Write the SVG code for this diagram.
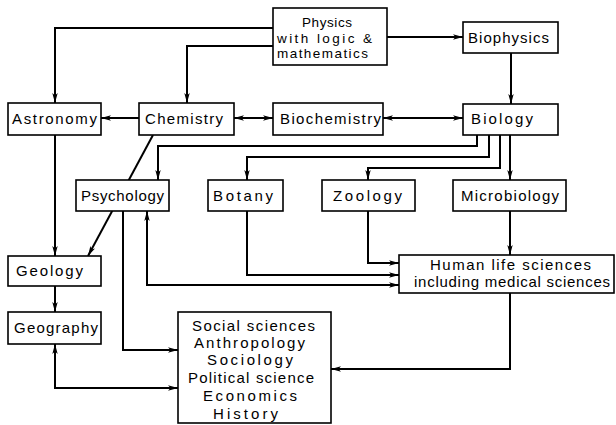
<svg xmlns="http://www.w3.org/2000/svg" width="616" height="425" viewBox="0 0 616 425">
<style>
.box{fill:#fff;stroke:#000;stroke-width:1.6}
.t{font-family:"Liberation Sans",Arial,sans-serif;font-size:15px;fill:#000}
.s{font-size:13.5px}
.c{fill:none;stroke:#000;stroke-width:2}
.a{marker-end:url(#ah)}
.d{marker-start:url(#ah);marker-end:url(#ah)}
</style>
<defs>
<marker id="ah" viewBox="0 0 10 6" refX="10" refY="3" markerWidth="10" markerHeight="6" markerUnits="userSpaceOnUse" orient="auto-start-reverse">
<path d="M0,0.3 L10,3 L0,5.7 L2.5,3 z" fill="#000"/>
</marker>
</defs>
<rect width="616" height="425" fill="#fff"/>
<g id="connectors">
<polyline class="c a" points="273,28 55,28 55,103"/>
<polyline class="c a" points="273,46 187,46 187,103"/>
<line class="c a" x1="387" y1="37" x2="463" y2="37"/>
<line class="c a" x1="511" y1="53" x2="511" y2="104"/>
<line class="c a" x1="139" y1="118" x2="101" y2="118"/>
<line class="c d" x1="234" y1="118" x2="273" y2="118"/>
<line class="c d" x1="383" y1="118" x2="463" y2="118"/>
<line class="c a" x1="153" y1="135" x2="88" y2="256"/>
<line class="c a" x1="55" y1="135" x2="55" y2="256"/>
<line class="c a" x1="55" y1="286" x2="55" y2="312"/>
<polyline class="c a" points="477,135 477,146 158,146 158,180"/>
<polyline class="c a" points="489,135 489,157 247,157 247,180"/>
<polyline class="c a" points="500,135 500,168 368,168 368,180"/>
<line class="c a" x1="510" y1="135" x2="510" y2="180"/>
<line class="c a" x1="510" y1="211" x2="510" y2="255"/>
<polyline class="c a" points="368,211 368,263 399,263"/>
<polyline class="c a" points="247,211 247,275 399,275"/>
<polyline class="c d" points="147,211 147,285 399,285"/>
<polyline class="c a" points="123,211 123,350 178,350"/>
<polyline class="c d" points="55,344 55,388 178,388"/>
<polyline class="c a" points="510,293 510,369 331,369"/>
</g>
<g id="physics">
<rect class="box" x="273" y="8" width="114" height="57"/>
<text class="t s" x="302" y="27" textLength="50" lengthAdjust="spacing">Physics</text>
<text class="t s" x="277" y="43" textLength="95" lengthAdjust="spacing">with logic &amp;</text>
<text class="t s" x="277" y="58" textLength="91" lengthAdjust="spacing">mathematics</text>
</g>
<g id="biophysics">
<rect class="box" x="463" y="22" width="95" height="31"/>
<text class="t" x="468" y="43" textLength="81" lengthAdjust="spacing">Biophysics</text>
</g>
<g id="astronomy">
<rect class="box" x="8" y="103" width="93" height="32"/>
<text class="t" x="12" y="124" textLength="85" lengthAdjust="spacing">Astronomy</text>
</g>
<g id="chemistry">
<rect class="box" x="139" y="103" width="95" height="32"/>
<text class="t" x="145" y="124" textLength="78" lengthAdjust="spacing">Chemistry</text>
</g>
<g id="biochemistry">
<rect class="box" x="273" y="103" width="110" height="32"/>
<text class="t" x="280" y="124" textLength="101" lengthAdjust="spacing">Biochemistry</text>
</g>
<g id="biology">
<rect class="box" x="463" y="104" width="95" height="31"/>
<text class="t" x="471" y="124" textLength="62" lengthAdjust="spacing">Biology</text>
</g>
<g id="psychology">
<rect class="box" x="76" y="180" width="93" height="31"/>
<text class="t" x="81" y="201" textLength="83" lengthAdjust="spacing">Psychology</text>
</g>
<g id="botany">
<rect class="box" x="208" y="180" width="75" height="31"/>
<text class="t" x="213" y="201" textLength="60" lengthAdjust="spacing">Botany</text>
</g>
<g id="zoology">
<rect class="box" x="322" y="180" width="93" height="31"/>
<text class="t" x="333" y="201" textLength="69" lengthAdjust="spacing">Zoology</text>
</g>
<g id="microbiology">
<rect class="box" x="453" y="180" width="113" height="31"/>
<text class="t" x="461" y="201" textLength="98" lengthAdjust="spacing">Microbiology</text>
</g>
<g id="geology">
<rect class="box" x="8" y="256" width="93" height="30"/>
<text class="t" x="16" y="276" textLength="67" lengthAdjust="spacing">Geology</text>
</g>
<g id="geography">
<rect class="box" x="8" y="312" width="93" height="32"/>
<text class="t" x="14" y="333" textLength="84" lengthAdjust="spacing">Geography</text>
</g>
<g id="human">
<rect class="box" x="399" y="255" width="215" height="38"/>
<text class="t" x="430" y="270" textLength="161" lengthAdjust="spacing">Human life sciences</text>
<text class="t" x="414" y="287" textLength="196" lengthAdjust="spacing">including medical sciences</text>
</g>
<g id="social">
<rect class="box" x="178" y="312" width="153" height="111"/>
<text class="t" x="192" y="331" textLength="123" lengthAdjust="spacing">Social sciences</text>
<text class="t" x="194" y="348" textLength="111" lengthAdjust="spacing">Anthropology</text>
<text class="t" x="207" y="365" textLength="86" lengthAdjust="spacing">Sociology</text>
<text class="t" x="188" y="383" textLength="126" lengthAdjust="spacing">Political science</text>
<text class="t" x="203" y="401" textLength="94" lengthAdjust="spacing">Economics</text>
<text class="t" x="213" y="419" textLength="65" lengthAdjust="spacing">History</text>
</g>
</svg>
